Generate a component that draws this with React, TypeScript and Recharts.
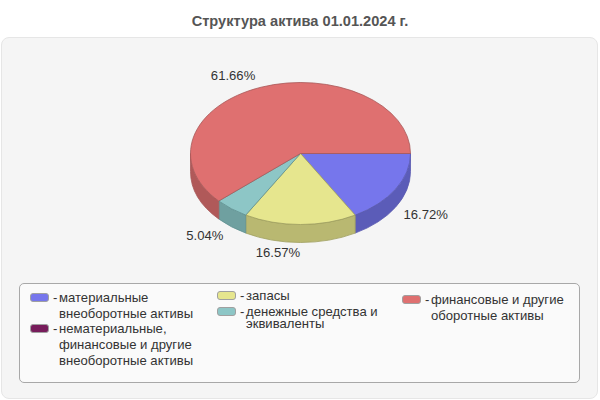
import { PieChart, Pie, Legend } from "recharts";

const categories = [
    "материальные\nвнеоборотные активы",
    "нематериальные,\nфинансовые и другие\nвнеоборотные активы",
    "запасы",
    "денежные средства и\nэквиваленты",
    "финансовые и другие\nоборотные активы",
];
const shares = [16.72, 0, 16.57, 5.04, 61.66];
const topColors = ["#7676ec", "#771c5b", "#e6e68e", "#8dc6c6", "#df7070"];
const sideColors = ["#5b5cb8", "#5c1646", "#b9b871", "#6fa0a0", "#b05959"];
const edgeColors = ["#5a5ab0", "#5c1646", "#a09f60", "#5f9090", "#a85858"];

const tableData = categories.map((name, i) => ({
    name,
    value: shares[i],
    fill: topColors[i],
    side: sideColors[i],
    edge: edgeColors[i],
}));

const SQUASH = 71 / 110;
const DEPTH = 18;

// legend rows: x of swatch, y of first text line centre, line height
const legendRows = [
    { x: 11, y: 14, lh: 16 },
    { x: 11, y: 45, lh: 16 },
    { x: 198, y: 11.5, lh: 16 },
    { x: 198, y: 27.5, lh: 12.5 },
    { x: 383, y: 16, lh: 16 },
];

// label offsets from the rim point at the slice middle
const labelOffsets = [
    { dx: 30, dy: 25 },
    { dx: 0, dy: 0 },
    { dx: -22.5, dy: 28 },
    { dx: -26.5, dy: 27 },
    { dx: -28, dy: -12 },
];

const rim = (cx: number, cy: number, r: number, deg: number) => {
    const t = (deg * Math.PI) / 180;
    return { x: cx + r * Math.cos(t), y: cy + r * SQUASH * Math.sin(t) };
};

function TopSlice(props: any) {
    const { cx, cy, outerRadius, startAngle, endAngle, fill, edge } = props;
    const a = -startAngle;
    const b = -endAngle;
    if (b - a <= 0) return null;
    const p1 = rim(cx, cy, outerRadius, a);
    const p2 = rim(cx, cy, outerRadius, b);
    const large = b - a > 180 ? 1 : 0;
    const ry = outerRadius * SQUASH;
    const d = `M${cx},${cy} L${p1.x},${p1.y} A${outerRadius},${ry} 0 ${large} 1 ${p2.x},${p2.y} Z`;
    return <path d={d} fill={fill} stroke={edge} strokeWidth={0.8} />;
}

function SideSlice(props: any) {
    const { cx, cy, outerRadius, startAngle, endAngle, side, edge } = props;
    const a = Math.max(-startAngle, 0);
    const b = Math.min(-endAngle, 180);
    if (b - a <= 0) return null;
    const p1 = rim(cx, cy, outerRadius, a);
    const p2 = rim(cx, cy, outerRadius, b);
    const ry = outerRadius * SQUASH;
    const d =
        `M${p1.x},${p1.y} A${outerRadius},${ry} 0 0 1 ${p2.x},${p2.y} ` +
        `L${p2.x},${p2.y + DEPTH} A${outerRadius},${ry} 0 0 0 ${p1.x},${p1.y + DEPTH} Z`;
    return <path d={d} fill={side} stroke={edge} strokeWidth={0.8} />;
}

function sliceLabel(props: any) {
    const { cx, cy, outerRadius, midAngle, value, index } = props;
    if (!value) return null;
    const p = rim(cx, cy, outerRadius, -midAngle);
    const off = labelOffsets[index];
    return (
        <text
            x={p.x + off.dx}
            y={p.y + off.dy}
            textAnchor="middle"
            dominantBaseline="central"
            fontSize={13.1}
            fill="#333"
            fontFamily="Liberation Sans"
        >
            {value.toFixed(2)}%
        </text>
    );
}

function LegendBox() {
    return (
        <div
            style={{
                position: "relative",
                width: 561,
                height: 100,
                boxSizing: "border-box",
                background: "#fafafa",
                border: "1px solid #a8a8a8",
                borderRadius: 5,
                fontFamily: "Liberation Sans",
                fontSize: 13.1,
                color: "#333",
            }}
        >
            {tableData.map((row, i) => {
                const pos = legendRows[i];
                return (
                    <div key={row.name}>
                        <div
                            style={{
                                position: "absolute",
                                left: pos.x - 1,
                                top: pos.y - 5,
                                width: 19,
                                height: 9,
                                boxSizing: "border-box",
                                background: row.fill,
                                border: "1px solid #a0a0a0",
                                borderRadius: 3,
                            }}
                        />
                        <div style={{ position: "absolute", left: pos.x + 22, top: pos.y - 6, lineHeight: "12px" }}>-</div>
                        {row.name.split("\n").map((line, j) => (
                            <div
                                key={line}
                                style={{
                                    position: "absolute",
                                    left: pos.x + 28,
                                    top: pos.y - 6 + j * pos.lh,
                                    lineHeight: "12px",
                                    whiteSpace: "nowrap",
                                }}
                            >
                                {line}
                            </div>
                        ))}
                    </div>
                );
            })}
        </div>
    );
}

export default function App() {
    return (
        <div style={{ position: "absolute", left: 0, top: 0, width: 600, height: 400, background: "#fff", overflow: "hidden" }}>
            <div
                style={{
                    position: "absolute",
                    left: 0,
                    top: 13,
                    width: 600,
                    textAlign: "center",
                    fontFamily: "Liberation Sans",
                    fontWeight: "bold",
                    fontSize: 14.6,
                    color: "#555",
                }}
            >
                Структура актива 01.01.2024 г.
            </div>
            <div
                style={{
                    position: "absolute",
                    left: 1,
                    top: 37,
                    width: 596.5,
                    height: 362,
                    boxSizing: "border-box",
                    background: "#f5f5f5",
                    border: "1px solid #e6e6e6",
                    borderRadius: 8,
                }}
            />
            <div style={{ position: "absolute", left: 0, top: 0 }}>
                <PieChart width={600} height={400} margin={{ top: 0, right: 0, bottom: 0, left: 0 }}>
                    <Pie
                        data={tableData}
                        dataKey="value"
                        nameKey="name"
                        cx={300.5}
                        cy={153.5}
                        outerRadius={110}
                        startAngle={0}
                        endAngle={-360}
                        stroke="none"
                        legendType="none"
                        shape={SideSlice}
                        isAnimationActive={false}
                    />
                    <Pie
                        data={tableData}
                        dataKey="value"
                        nameKey="name"
                        cx={300.5}
                        cy={153.5}
                        outerRadius={110}
                        startAngle={0}
                        endAngle={-360}
                        stroke="none"
                        shape={TopSlice}
                        label={sliceLabel}
                        labelLine={false}
                        isAnimationActive={false}
                    />
                    <Legend
                        verticalAlign="bottom"
                        content={<LegendBox />}
                        wrapperStyle={{ position: "absolute", left: 19, top: 283, bottom: "auto", width: 561, height: 100 }}
                    />
                </PieChart>
            </div>
        </div>
    );
}
